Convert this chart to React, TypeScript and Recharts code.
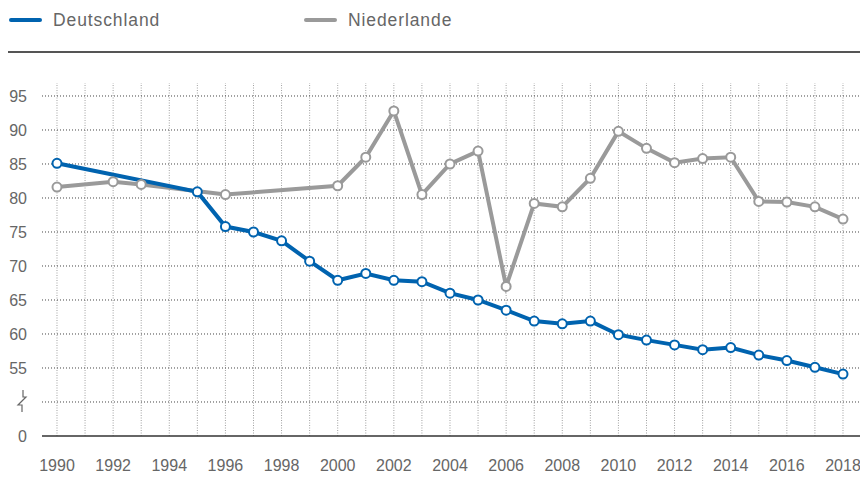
import { LineChart, Line, XAxis, YAxis, ReferenceLine } from "recharts";

const YEARS = [
  1990, 1991, 1992, 1993, 1994, 1995, 1996, 1997, 1998, 1999, 2000, 2001, 2002, 2003, 2004,
  2005, 2006, 2007, 2008, 2009, 2010, 2011, 2012, 2013, 2014, 2015, 2016, 2017, 2018,
];

const DEUTSCHLAND: (number | null)[] = [
  85.1, null, null, null, null, 80.9, 75.8, 75.0, 73.7, 70.7, 67.9, 68.9, 67.9, 67.7, 66.0,
  65.0, 63.5, 61.9, 61.5, 61.9, 59.9, 59.1, 58.4, 57.7, 58.0, 56.9, 56.1, 55.1, 54.1,
];

const NIEDERLANDE: (number | null)[] = [
  81.6, null, 82.4, 82.0, null, null, 80.5, null, null, null, 81.8, 86.0, 92.8, 80.5, 85.0,
  86.9, 67.0, 79.2, 78.7, 82.9, 89.8, 87.3, 85.2, 85.8, 86.0, 79.5, 79.4, 78.7, 76.9,
];

// 45 stands for the "0" baseline, 50 is the axis break
const Y_TICKS = [45, 50, 55, 60, 65, 70, 75, 80, 85, 90, 95];

const BLUE = "#0063af";
const GRAY = "#9a9a9a";
const TEXT = "#666666";
const FONT = "'Liberation Sans', Arial, sans-serif";

const data = YEARS.map((year, i) => ({
  year,
  de: DEUTSCHLAND[i],
  nl: NIEDERLANDE[i],
}));

function YTick(props: any) {
  const { x, y, payload } = props;
  if (payload.value === 50) {
    return (
      <path
        d={`M ${x - 4} ${y - 12} L ${x - 4} ${y - 5} L ${x - 1} ${y - 5} L ${x - 9} ${y + 3} L ${x - 5} ${y + 3} L ${x - 5} ${y + 10}`}
        fill="none"
        stroke={TEXT}
        strokeWidth={1.2}
      />
    );
  }
  const label = payload.value === 45 ? "0" : String(payload.value);
  return (
    <text x={x} y={y} dy="0.36em" textAnchor="end" fill={TEXT} fontSize={16} fontFamily={FONT}>
      {label}
    </text>
  );
}

function LegendItem({ color, label, left }: { color: string; label: string; left: number }) {
  return (
    <div style={{ position: "absolute", left, top: 8, display: "flex", alignItems: "center" }}>
      <div style={{ width: 33, height: 4, borderRadius: 2, background: color, marginRight: 11 }} />
      <span style={{ fontFamily: FONT, fontSize: 17.5, letterSpacing: 0.9, color: TEXT, lineHeight: "24px" }}>
        {label}
      </span>
    </div>
  );
}

export default function App() {
  return (
    <div style={{ position: "absolute", left: 0, top: 0, width: 860, height: 495, background: "#fff" }}>
      <LegendItem color={BLUE} label="Deutschland" left={9} />
      <LegendItem color={GRAY} label="Niederlande" left={304} />
      <div style={{ position: "absolute", left: 8, top: 51, width: 852, height: 1.5, background: "#555" }} />
      <div style={{ position: "absolute", left: 0, top: 0 }}>
        <LineChart width={860} height={495} data={data} margin={{ top: 83, right: 0, bottom: 0, left: 0 }}>
          {YEARS.map((yr) => (
            <ReferenceLine key={yr} x={yr} stroke="#a0a0a0" strokeDasharray="1 1.5" />
          ))}
          {Y_TICKS.slice(1).map((v) => (
            <ReferenceLine key={v} y={v} stroke="#444" strokeDasharray="1 2" />
          ))}
          <XAxis
            dataKey="year"
            type="number"
            domain={[1989.466, 2018.606]}
            ticks={YEARS}
            interval={0}
            tickFormatter={(v: number) => (v % 2 === 0 ? String(v) : "")}
            tick={{ fill: TEXT, fontSize: 16, fontFamily: FONT }}
            tickLine={false}
            tickSize={0}
            tickMargin={24}
            axisLine={{ stroke: "#333", strokeWidth: 1.5 }}
            height={59}
          />
          <YAxis
            type="number"
            domain={[45, 96.91]}
            ticks={Y_TICKS}
            interval={0}
            width={42}
            tick={<YTick />}
            tickLine={false}
            tickSize={0}
            tickMargin={15}
            axisLine={false}
          />
          <Line
            dataKey="nl"
            stroke={GRAY}
            strokeWidth={4}
            connectNulls
            dot={{ r: 4.5, fill: "#fff", stroke: GRAY, strokeWidth: 2 }}
            isAnimationActive={false}
          />
          <Line
            dataKey="de"
            stroke={BLUE}
            strokeWidth={4}
            connectNulls
            dot={{ r: 4.5, fill: "#fff", stroke: BLUE, strokeWidth: 2 }}
            isAnimationActive={false}
          />
        </LineChart>
      </div>
    </div>
  );
}
